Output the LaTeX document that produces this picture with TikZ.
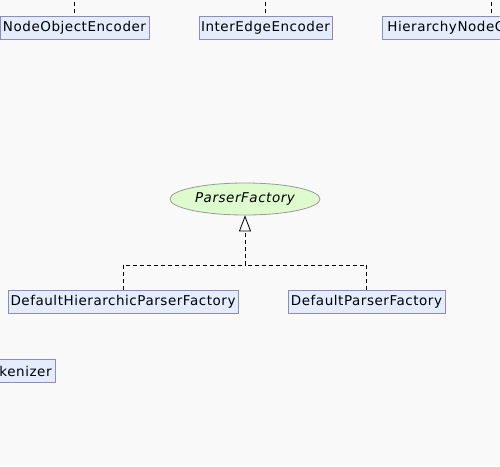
\documentclass[tikz,border=0pt]{standalone}
\usepackage{fontspec}
\setmainfont{DejaVu Sans}[LetterSpace=4]
\usetikzlibrary{shapes.geometric, arrows.meta, positioning}

\definecolor{bgGray}{HTML}{F9F9F9}
\definecolor{classFill}{HTML}{E4ECFD}
\definecolor{classLine}{HTML}{8A8AC6}
\definecolor{ifaceFill}{HTML}{DDFBCC}
\definecolor{ifaceLine}{HTML}{9A9A9A}

\begin{document}
\begin{tikzpicture}[
    x=1pt, y=-1pt,
    cls/.style={
        draw=classLine, fill=classFill, rectangle, line width=0.8pt,
        minimum height=23pt, inner sep=0pt, font=\fontsize{13.5}{15}\selectfont
    },
    iface/.style={
        draw=ifaceLine, fill=ifaceFill, ellipse, line width=0.8pt,
        minimum width=150pt, minimum height=32pt, inner sep=0pt,
        font=\fontsize{13.5}{15}\selectfont\itshape
    },
    dep/.style={dash pattern=on 4pt off 3pt, line width=0.8pt}
]

% Canvas
\fill[bgGray] (0,0) rectangle (500,466);
\useasboundingbox (0,0) rectangle (500,466);
\clip (0,0) rectangle (500,466);

% -------------------------
% Top row (encoders)
% -------------------------
\node[cls, minimum width=149pt] (NodeObjEnc) at (74.5,27.5) {NodeObjectEncoder};
\node[cls, minimum width=133pt] (InterEdgeEnc) at (265.5,27.5) {InterEdgeEncoder};
\node[cls, anchor=west, text width=140pt, align=left, inner xsep=5pt] (HierNodeC) at (382,27.5) {HierarchyNodeC};

\coordinate (NodeObjTop) at (74.5,-5);
\coordinate (InterEdgeTop) at (265.5,-5);
\coordinate (HierNodeTop) at (491,-5);

\draw[dep] (NodeObjTop) -- (NodeObjEnc.north);
\draw[dep] (InterEdgeTop) -- (InterEdgeEnc.north);
\draw[dep] (HierNodeTop) -- (HierNodeTop |- HierNodeC.north);

% -------------------------
% ParserFactory and its implementations
% -------------------------
\node[iface] (ParserFactory) at (245,199) {ParserFactory};

\node[cls, minimum width=230pt] (DefHierPF) at (123,302) {DefaultHierarchicParserFactory};
\node[cls, minimum width=157pt] (DefPF) at (366.5,302) {DefaultParserFactory};

\coordinate (Junction) at (245,265);

\draw[dep] (DefHierPF.north) |- (Junction);
\draw[dep] (DefPF.north) |- (Junction);
\draw[dep, -{Triangle[open, length=16pt, width=12pt, line width=0.8pt]}] (Junction) -- (ParserFactory.south);

% -------------------------
% Bottom left (clipped)
% -------------------------
\node[cls, anchor=east, text width=70pt, align=right, inner xsep=4pt] (Tokenizer) at (56,371) {kenizer};

\end{tikzpicture}
\end{document}
